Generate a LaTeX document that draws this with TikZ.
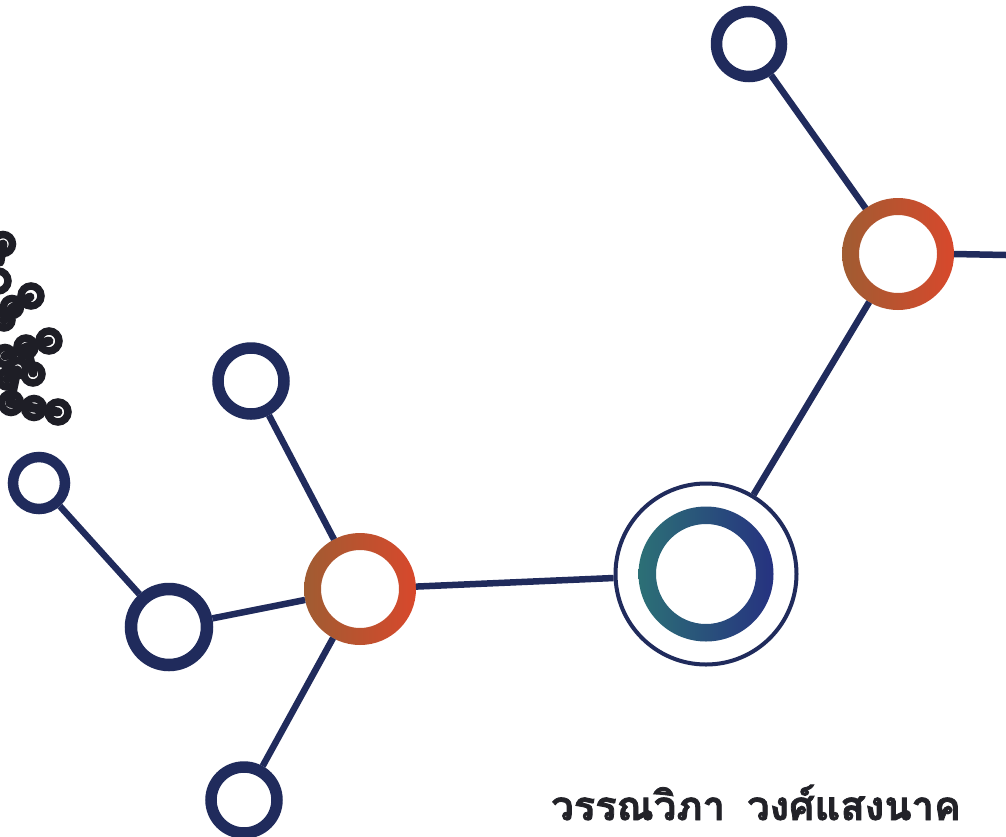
\documentclass[tikz,border=0pt]{standalone}
\usepackage{fontspec}
\newfontfamily\thaifont[Script=Thai,FakeBold=2]{Loma}
\definecolor{navy}{RGB}{32,43,92}
\definecolor{orL}{RGB}{160,92,50}
\definecolor{orR}{RGB}{216,72,44}
\definecolor{tealL}{RGB}{44,112,118}
\definecolor{blueR}{RGB}{38,50,128}
\definecolor{txt}{RGB}{34,34,40}
\definecolor{ink}{RGB}{30,30,38}
\tikzset{
  ring/.style={circle, draw=navy, fill=white, inner sep=0pt},
  hub/.style={circle, fill=white, inner sep=0pt, outer sep=0pt},
  conn/.style={draw=navy, line width=6.5pt},
  loopring/.style={draw=ink, line width=7.5pt},
  loopjoin/.style={draw=ink, line width=9pt, line cap=round},
}
\begin{document}
\begin{tikzpicture}[x=1pt,y=-1pt]
\useasboundingbox (0,0) rectangle (1006,836);
\fill[white] (0,0) rectangle (1006,836);

% small navy rings
\node[ring, line width=11.5pt, minimum size=65pt] (t1) at (749,44) {};
\node[ring, line width=11.5pt, minimum size=66pt] (tl) at (251,381) {};
\node[ring, line width=10.5pt, minimum size=52pt] (l1) at (39,483) {};
\node[ring, line width=12.5pt, minimum size=76pt] (bl) at (169,627) {};
\node[ring, line width=11.5pt, minimum size=66pt] (b1) at (244,800) {};

% orange hubs
\node[hub, minimum size=112pt] (o1) at (898,254) {};
\shade[even odd rule, left color=orL, right color=orR] (o1.center) circle[radius=56pt] circle[radius=39pt];
\node[hub, minimum size=112pt] (o2) at (360,589) {};
\shade[even odd rule, left color=orL, right color=orR] (o2.center) circle[radius=56pt] circle[radius=39pt];

% big double circle
\node[ring, line width=4pt, minimum size=181pt] (big) at (706,574) {};
\shade[even odd rule, shading=axis, shading angle=60, left color=tealL, right color=blueR] (big.center) circle[radius=67.5pt] circle[radius=50pt];

\coordinate (edge) at (1006,255);

% connectors
\draw[conn] (t1) -- (o1);
\draw[conn] (o1.east) -- (edge);
\draw[conn] (o1) -- (big);
\draw[conn] (big) -- (o2);
\draw[conn] (tl) -- (o2);
\draw[conn] (bl) -- (o2);
\draw[conn] (b1) -- (o2);
\draw[conn] (l1) -- (bl);

% name
\node[anchor=base, text=txt, inner sep=0pt, text depth=0pt, font=\thaifont\bfseries\fontsize{40}{40}\selectfont] (name) at (756,820) {วรรณวิภา\hspace{0.55em}วงศ์แสงนาค};

% cut-off looped glyph fragments at the left edge
\begin{scope}
\clip (0,225) rectangle (76,432);
\draw[loopjoin] (12,308) -- (30,297);
\draw[loopjoin] (4,320) -- (12,308);
\draw[loopjoin] (27,347) -- (49,341);
\draw[loopjoin] (5,356) -- (27,347);
\draw[loopjoin] (27,347) -- (33,373);
\draw[loopjoin] (17,370) -- (7,379);
\draw[loopjoin] (10,403) -- (34,408) -- (58,412);
\draw[loopjoin] (17,370) -- (10,403);
\draw[loopjoin] (0,262) -- (3,244);
\draw[loopring] (3,244) circle[radius=9.5pt];
\draw[loopring] (-2,281) circle[radius=10pt];
\draw[loopring] (31,296) circle[radius=10pt];
\draw[loopring] (12,307) circle[radius=8.5pt];
\draw[loopring] (4,320) circle[radius=8pt];
\draw[loopring] (49,341) circle[radius=10pt];
\draw[loopring] (26,347) circle[radius=9pt];
\draw[loopring] (5,356) circle[radius=8.5pt];
\draw[loopring] (33,374) circle[radius=9pt];
\draw[loopring] (18,368) circle[radius=7.5pt];
\draw[loopring] (7,379) circle[radius=8pt];
\draw[loopring] (11,403) circle[radius=9.5pt];
\draw[loopring] (34,408) circle[radius=9.5pt];
\draw[loopring] (58,412) circle[radius=10pt];
\end{scope}
\end{tikzpicture}
\end{document}
